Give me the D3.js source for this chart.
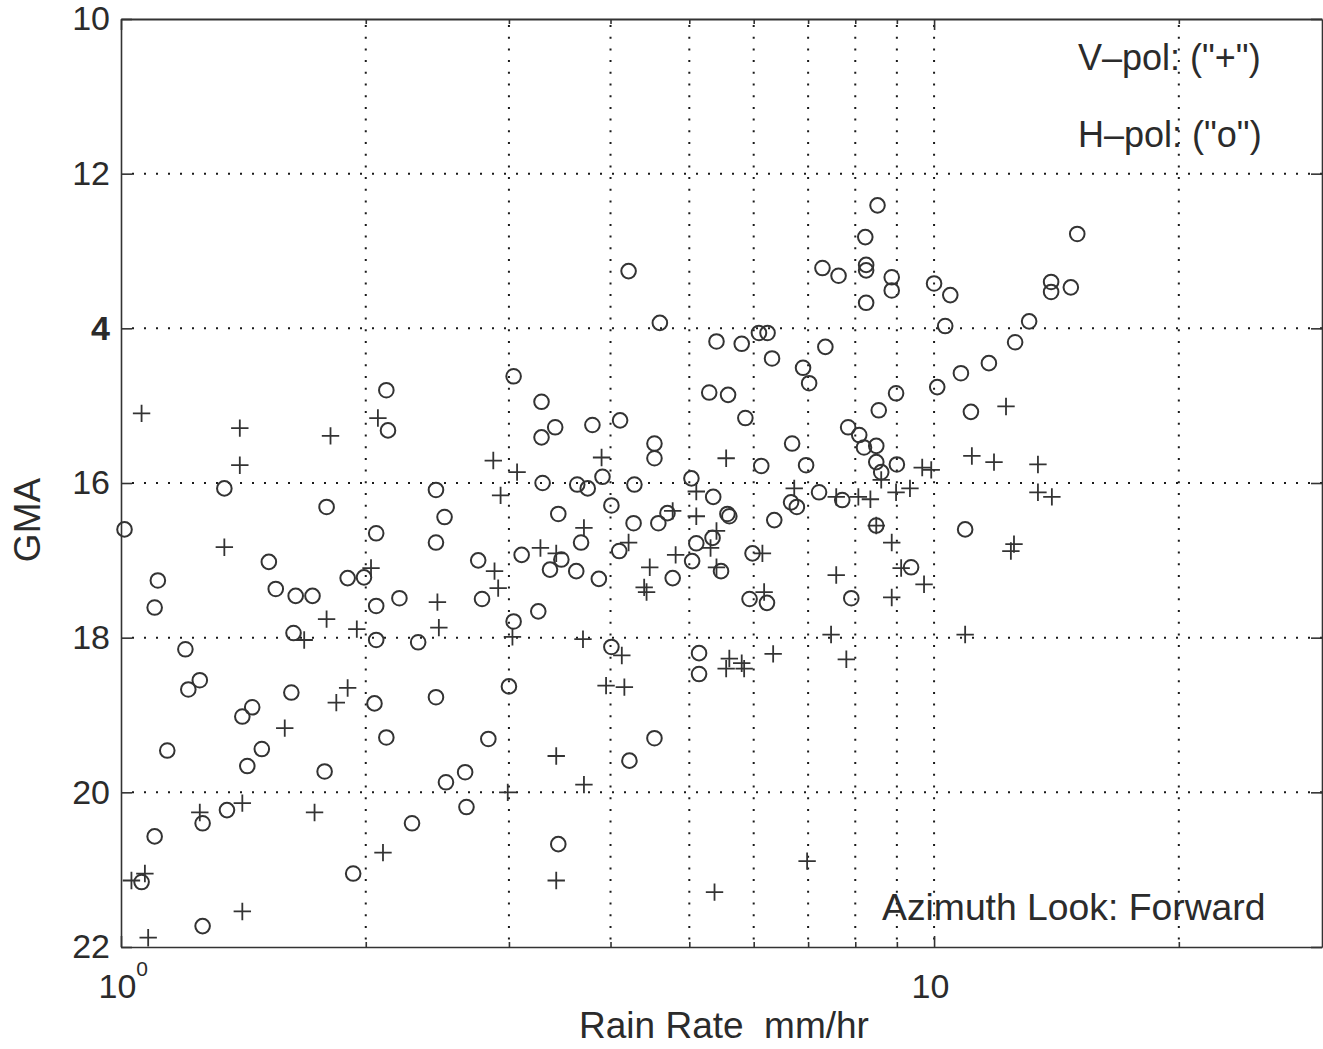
<!DOCTYPE html>
<html>
<head>
<meta charset="utf-8">
<script src="https://cdn.jsdelivr.net/npm/d3@7"></script>
<style>
body { margin: 0; background: #fff; }
svg text { font-family: "Liberation Sans", Arial, sans-serif; fill: #2b2b2b; }
</style>
</head>
<body>
<svg id="chart" width="1323" height="1049"></svg>
<script>
// H-pol ("o") points
const hpolRate = [4.21,4.60,5.40,5.80,6.09,6.24,7.29,7.63,7.35,8.23,
  8.25,8.25,8.25,8.52,8.87,8.87,10.0,10.47,10.32,15.0,
  13.93,13.93,14.73,13.09,12.58,11.68,10.79,10.09,8.98,8.55,
  11.10,7.84,8.09,8.20,8.49,8.49,8.61,9.00,7.71,7.22,
  8.49,10.92,9.37,6.90,7.02,6.32,5.29,5.58,5.86,3.04,
  3.29,3.29,3.42,3.80,4.11,4.53,4.53,6.69,6.13,6.96,
  5.03,5.35,5.57,5.60,6.36,6.67,6.78,4.70,4.58,4.27,
  5.10,5.34,5.04,5.47,4.77,5.98,5.93,6.23,7.91,3.30,
  3.64,3.75,3.91,4.28,4.01,3.45,3.68,4.10,3.11,3.48,
  3.37,3.63,3.87,2.75,2.78,3.26,3.04,4.01,5.14,5.14,
  3.00,2.83,4.22,4.53,3.45,2.12,2.13,1.34,1.79,1.01,
  2.06,2.44,2.50,2.44,1.11,1.10,1.52,1.55,1.64,1.72,
  1.90,1.99,2.06,2.20,1.63,2.06,2.32,1.20,1.25,1.21,
  1.62,2.05,2.44,1.41,1.45,1.14,1.49,1.43,1.78,2.12,
  2.51,2.65,2.66,1.10,1.26,1.35,2.28,1.06,1.93,1.26];
const hpolGma = [13.26,13.93,14.17,14.20,14.06,14.06,13.22,13.32,14.24,12.82,
  13.18,13.25,13.67,12.41,13.34,13.51,13.42,13.57,13.97,12.78,
  13.40,13.53,13.47,13.91,14.18,14.45,14.58,14.76,14.84,15.06,
  15.08,15.28,15.38,15.54,15.52,15.73,15.86,15.76,16.22,16.12,
  16.55,16.60,17.09,14.51,14.71,14.39,14.83,14.86,15.16,14.62,
  14.95,15.41,15.28,15.25,15.19,15.49,15.68,15.49,15.78,15.77,
  15.94,16.18,16.40,16.43,16.48,16.25,16.31,16.39,16.52,16.52,
  16.78,16.71,17.01,17.14,17.23,16.91,17.50,17.55,17.49,16.00,
  16.02,16.07,15.92,16.02,16.29,16.40,16.77,16.88,16.93,16.99,
  17.12,17.14,17.24,17.00,17.50,17.66,17.79,18.12,18.20,18.47,
  18.63,19.31,19.59,19.30,20.67,14.80,15.32,16.07,16.31,16.60,
  16.65,16.09,16.44,16.77,17.26,17.61,17.02,17.37,17.46,17.46,
  17.23,17.22,17.59,17.49,17.94,18.03,18.06,18.15,18.55,18.67,
  18.71,18.85,18.77,19.02,18.90,19.46,19.44,19.66,19.73,19.29,
  19.87,19.74,20.19,20.57,20.40,20.23,20.40,21.16,21.05,21.73];

// V-pol ("+") points
const vpolRate = [1.06,1.40,1.40,1.81,2.07,1.34,2.03,2.45,2.46,1.79,
  1.95,1.68,1.90,1.84,1.59,1.25,1.41,1.73,2.10,1.07,
  1.03,1.41,1.08,2.87,3.07,2.93,3.90,5.55,5.10,5.10,
  4.77,6.73,7.58,8.07,8.35,8.61,3.71,4.21,5.40,3.28,
  3.43,4.81,5.31,6.15,4.47,5.40,2.88,2.91,4.40,4.43,
  6.18,7.58,3.03,3.70,4.13,6.34,7.47,7.80,5.60,5.80,
  5.55,5.84,3.95,4.16,2.99,3.43,3.71,3.43,5.37,6.98,
  12.26,9.67,9.92,11.13,11.85,13.42,8.98,9.34,13.42,13.96,
  12.54,12.43,8.87,9.11,9.72,8.87,10.92,8.49];
const vpolGma = [15.10,15.29,15.77,15.39,15.16,16.83,17.10,17.54,17.87,17.76,
  17.89,18.03,18.65,18.84,19.17,20.26,20.14,20.26,20.78,21.05,
  21.14,21.54,21.88,15.71,15.86,16.16,15.67,15.68,16.11,16.43,
  16.36,16.07,16.18,16.18,16.21,15.96,16.58,16.77,16.62,16.84,
  16.91,16.93,16.84,16.91,17.09,17.09,17.14,17.36,17.35,17.41,
  17.41,17.19,17.99,18.02,18.23,18.21,17.96,18.28,18.27,18.33,
  18.40,18.40,18.62,18.64,20.00,19.53,19.90,21.14,21.29,20.89,
  15.01,15.80,15.83,15.65,15.73,15.76,16.12,16.07,16.12,16.18,
  16.79,16.88,16.77,17.10,17.31,17.48,17.96,16.55];

const yTickValues = [10, 12, 14, 16, 18, 20, 22];
const yTickLabels = ["10", "12", "4", "16", "18", "20", "22"];
const xMajorTicks = [1, 10];
const xMinorTicks = [2, 3, 4, 5, 6, 7, 8, 9, 20];
const xGridValues = [2, 3, 4, 5, 6, 7, 8, 9, 10, 20];
const yGridValues = [12, 14, 16, 18, 20];
const legendLines = ['V\u2013pol: ("+")', 'H\u2013pol: ("o")'];
const noteText = "Azimuth Look: Forward";

const [plotLeft, plotRight, plotTop, plotBottom] = [121, 1322, 19, 947];

const x = d3.scaleLog().domain([1, 30]).range([plotLeft, plotRight]);
const y = d3.scaleLinear().domain([10, 22]).range([plotTop, plotBottom]);

const svg = d3.select("#chart");

// dotted grid
svg.append("g")
    .selectAll("line")
    .data(xGridValues)
    .join("line")
    .attr("x1", d => x(d)).attr("x2", d => x(d))
    .attr("y1", plotTop + 6).attr("y2", plotBottom)
    .attr("stroke", "#1a1a1a")
    .attr("stroke-width", 2)
    .attr("stroke-dasharray", "2,9.7");

svg.append("g")
    .selectAll("line")
    .data(yGridValues)
    .join("line")
    .attr("x1", plotLeft + 11).attr("x2", plotRight)
    .attr("y1", d => y(d)).attr("y2", d => y(d))
    .attr("stroke", "#1a1a1a")
    .attr("stroke-width", 2)
    .attr("stroke-dasharray", "2,10");

// axes, MATLAB style ticks pointing in
const styleAxis = g => {
    g.selectAll("path.domain").attr("stroke", "#333").attr("stroke-width", 1.6);
    g.selectAll(".tick line").attr("stroke", "#333").attr("stroke-width", 1.6);
};

svg.append("g")
    .attr("transform", `translate(${plotLeft},0)`)
    .call(d3.axisLeft(y).tickValues(yTickValues)
        .tickFormat((d, i) => yTickLabels[i])
        .tickSizeInner(-11).tickSizeOuter(0).tickPadding(11))
    .call(styleAxis)
    .call(g => g.selectAll(".tick text")
        .attr("font-size", 34)
        .attr("font-weight", (d, i) => yTickLabels[i] === "4" ? "bold" : "normal"));

svg.append("g")
    .attr("transform", `translate(${plotRight},0)`)
    .call(d3.axisRight(y).tickValues(yTickValues).tickFormat("")
        .tickSizeInner(-11).tickSizeOuter(0))
    .call(styleAxis);

const bottomAxis = svg.append("g")
    .attr("transform", `translate(0,${plotBottom})`)
    .call(d3.axisBottom(x).tickValues(xMajorTicks).tickFormat(() => "")
        .tickSizeInner(-11).tickSizeOuter(0))
    .call(styleAxis);

svg.append("g")
    .attr("transform", `translate(0,${plotBottom})`)
    .call(d3.axisBottom(x).tickValues(xMinorTicks).tickFormat("")
        .tickSizeInner(-5).tickSizeOuter(0))
    .call(styleAxis)
    .call(g => g.select("path.domain").remove());

svg.append("g")
    .attr("transform", `translate(0,${plotTop})`)
    .call(d3.axisTop(x).tickValues(xMajorTicks).tickFormat("")
        .tickSizeInner(-11).tickSizeOuter(0))
    .call(styleAxis)
    .call(g => g.select("path.domain").attr("stroke-width", 2));

svg.append("g")
    .attr("transform", `translate(0,${plotTop})`)
    .call(d3.axisTop(x).tickValues(xMinorTicks).tickFormat("")
        .tickSizeInner(-5).tickSizeOuter(0))
    .call(styleAxis)
    .call(g => g.select("path.domain").remove());

// x tick labels: 10^0 and 10
bottomAxis.selectAll(".tick")
    .append("text")
    .attr("x", -23)
    .attr("y", 51)
    .attr("font-size", 34)
    .attr("text-anchor", "start")
    .each(function (d) {
        const t = d3.select(this);
        t.append("tspan").text("10");
        if (d === 1) t.append("tspan").attr("dy", -22).attr("font-size", 21).text("0");
    });

// markers
svg.append("g")
    .selectAll("circle")
    .data(hpolRate.map((r, i) => ({r, g: hpolGma[i]})))
    .join("circle")
    .attr("cx", d => x(d.r))
    .attr("cy", d => y(d.g))
    .attr("r", 7.3)
    .attr("fill", "none")
    .attr("stroke", "#333")
    .attr("stroke-width", 2);

const s = 8.7;
svg.append("g")
    .selectAll("path")
    .data(vpolRate.map((r, i) => ({r, g: vpolGma[i]})))
    .join("path")
    .attr("d", d => {
        const cx = x(d.r), cy = y(d.g);
        return `M${cx - s},${cy}H${cx + s}M${cx},${cy - s}V${cy + s}`;
    })
    .attr("fill", "none")
    .attr("stroke", "#333")
    .attr("stroke-width", 1.8);

// titles and notes
svg.append("text")
    .attr("transform", "translate(40,520) rotate(-90)")
    .attr("text-anchor", "middle")
    .attr("font-size", 37)
    .text("GMA");

svg.append("text")
    .attr("x", 724).attr("y", 1038)
    .attr("text-anchor", "middle")
    .attr("font-size", 37)
    .style("white-space", "pre")
    .text("Rain Rate  mm/hr");

svg.append("g")
    .selectAll("text")
    .data(legendLines)
    .join("text")
    .attr("x", 1078)
    .attr("y", (d, i) => 70 + i * 77)
    .attr("font-size", 36)
    .text(d => d);

svg.append("text")
    .attr("x", 882).attr("y", 920)
    .attr("font-size", 37.3)
    .text(noteText);
</script>
</body>
</html>
